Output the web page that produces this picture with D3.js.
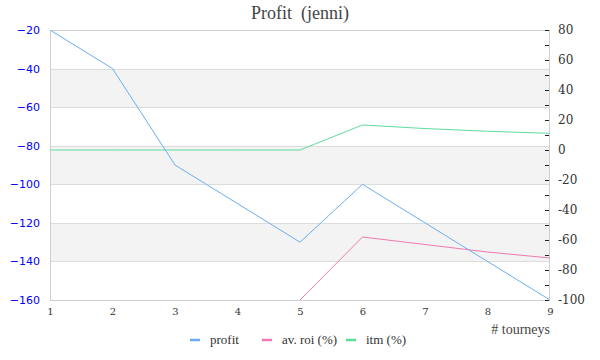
<!DOCTYPE html>
<html><head><meta charset="utf-8">
<script src="https://cdn.jsdelivr.net/npm/d3@7"></script>
<style>body{margin:0;background:#fff}svg{display:block}</style>
</head><body>
<svg id="c" width="600" height="360"></svg>
<script>
const title = "Profit  (jenni)";
const xTicks = [1,2,3,4,5,6,7,8,9];
const profitX = [1,2,3,5,6,9];
const profitY = [-20,-40,-90,-130,-100,-160];
const roiX = [5,6,7,8,9];
const roiY = [-100,-58,-63,-68,-72];
const itmX = [1,2,3,4,5,6,7,8,9];
const itmY = [0,0,0,0,0,16.7,14.3,12.5,11.1];
const leftTicks = [-20,-40,-60,-80,-100,-120,-140,-160];
const rightTicks = [80,60,40,20,0,-20,-40,-60,-80,-100];
const seriesNames = ["profit","av. roi (%)","itm (%)"];
const colors = ["#6aaef0","#f07ab0","#5ddc9c"];

const svg = d3.select("#c");
const L=50,R=550,T=30,B=300;
const x = d3.scaleLinear().domain([1,9]).range([L,R]);
const yL = d3.scaleLinear().domain([-160,-20]).range([B,T]);
const yR = d3.scaleLinear().domain([-100,80]).range([B,T]);

const bands = [[-40,-60],[-80,-100],[-120,-140]];
svg.selectAll("rect.band").data(bands).enter().append("rect")
  .attr("x",L).attr("width",R-L)
  .attr("y",d=>yL(d[0])).attr("height",d=>yL(d[1])-yL(d[0]))
  .attr("fill","#f3f3f3");
svg.selectAll("line.g").data(leftTicks).enter().append("line")
  .attr("x1",L).attr("x2",R).attr("y1",d=>Math.round(yL(d))+0.5).attr("y2",d=>Math.round(yL(d))+0.5)
  .attr("stroke","#dcdcdc");
svg.append("rect").attr("x",L+0.5).attr("y",T+0.5).attr("width",R-L-1).attr("height",B-T)
  .attr("fill","none").attr("stroke","#d0d0d0");

const gl = svg.append("g").attr("transform",`translate(${L-10},0)`)
  .call(d3.axisLeft(yL).tickValues(leftTicks).tickSize(0).tickPadding(0));
gl.attr("font-family","DejaVu Sans").attr("font-size",11);
gl.select(".domain").remove();
gl.selectAll("text").attr("fill","#0000ff");

const minor = d3.range(-100,81,10);
const gr = svg.append("g").attr("transform",`translate(${R-1},0)`)
  .call(d3.axisRight(yR).tickValues(minor).tickSize(-4).tickPadding(9)
    .tickFormat(d=>rightTicks.includes(d)?d:""));
gr.attr("font-family","DejaVu Serif").attr("font-size",12);
gr.select(".domain").remove();
gr.selectAll("line").attr("stroke","#222");
gr.selectAll("text").attr("fill","#333");

const gx = svg.append("g").attr("transform",`translate(0,${B})`)
  .call(d3.axisBottom(x).tickValues(xTicks).tickSize(0).tickPadding(8).tickFormat(d3.format("d")));
gx.attr("font-family","DejaVu Serif").attr("font-size",10);
gx.select(".domain").remove();
gx.selectAll("text").attr("fill","#333");

svg.append("text").attr("x",550).attr("y",334).attr("text-anchor","end")
  .attr("fill","#444").attr("font-family","Liberation Serif").attr("font-size",14).text("# tourneys");

svg.append("clipPath").attr("id","clip").append("rect").attr("x",L).attr("y",T).attr("width",R-L).attr("height",B-T);

const line = (xs,ys,sc)=>d3.line().x((d,i)=>x(xs[i])).y((d,i)=>sc(ys[i]))(xs);
svg.append("path").attr("d",line(itmX,itmY,yR)).attr("fill","none").attr("stroke",colors[2]).attr("stroke-width",1).attr("clip-path","url(#clip)");
svg.append("path").attr("d",line(roiX,roiY,yR)).attr("fill","none").attr("stroke",colors[1]).attr("stroke-width",1).attr("clip-path","url(#clip)");
svg.append("path").attr("d",line(profitX,profitY,yL)).attr("fill","none").attr("stroke",colors[0]).attr("stroke-width",1).attr("clip-path","url(#clip)");

svg.append("text").attr("x",300).attr("y",19).attr("text-anchor","middle")
  .attr("fill","#444").attr("font-family","Liberation Serif").attr("font-size",18)
  .attr("xml:space","preserve").style("white-space","pre").text(title);

const legX = [190,262,346];
const lg = svg.append("g").attr("font-family","Liberation Serif").attr("font-size",13);
seriesNames.forEach((n,i)=>{
  lg.append("line").attr("x1",legX[i]).attr("x2",legX[i]+10).attr("y1",340).attr("y2",340)
    .attr("stroke",colors[i]).attr("stroke-width",2.5);
  lg.append("text").attr("x",legX[i]+20).attr("y",344).attr("fill","#333").text(n);
});
</script>
</body></html>
